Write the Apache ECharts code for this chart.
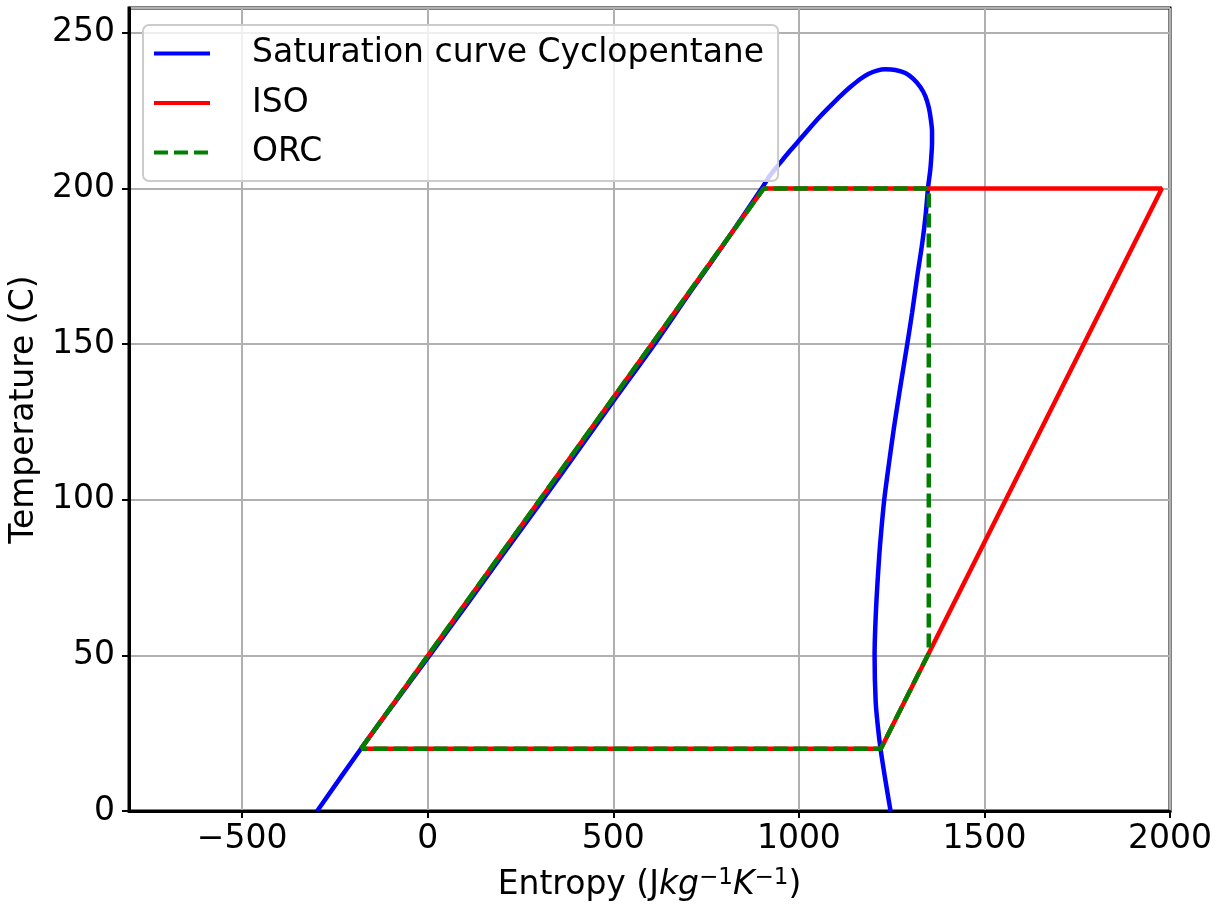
<!DOCTYPE html>
<html>
<head>
<meta charset="utf-8">
<title>T-s diagram Cyclopentane ORC</title>
<script src="https://cdn.jsdelivr.net/npm/echarts@6/dist/echarts.min.js"></script>
<style>
  html, body { margin: 0; padding: 0; background: #ffffff; }
  #chart { width: 1231px; height: 911px; }
</style>
</head>
<body>
<div id="chart"></div>
<script>
// Saturation dome of cyclopentane (entropy in J/kg/K, temperature in C)
const satS = [-298, -180, -88, 5, 103, 203, 310, 409, 508, 611, 706, 803,
  900.5, 922.9, 949.9, 976.8, 1003.8, 1030.7, 1057.7, 1084.6, 1111.6, 1138.5, 1165.5, 1187.1, 1210.5,
  1232.9, 1259.8, 1286.8, 1308.4, 1327.2, 1340.7, 1350.1, 1355.5, 1358.8, 1358.8, 1356.9, 1354.2, 1348.0,
  1342, 1333, 1318, 1305, 1292, 1273, 1256, 1242, 1230, 1222, 1216, 1208, 1204, 1207, 1213, 1220, 1233, 1247];
const satT = [0, 20, 35, 50, 66, 82.5, 100, 116.5, 133, 150, 166.5, 183,
  200.2, 204.3, 208.3, 212.2, 215.9, 219.6, 223.2, 226.5, 229.7, 232.6, 235.2, 236.8, 237.9,
  238.3, 238.1, 237.1, 235.2, 232.6, 229.7, 226.0, 222.2, 218.3, 214.7, 210.3, 206.1, 200.2,
  192, 183, 171, 160, 150, 136, 123, 111, 100, 90, 81, 65, 50, 35, 27, 20, 10, 0];

// Cycle with isothermal expansion (ISO)
const isoS = [-180, 905, 1978, 1221, -180];
const isoT = [20, 200, 200, 20, 20];

// Organic Rankine cycle (ORC)
const orcS = [-180, 905, 1350, 1350, 1221, -180];
const orcT = [20, 200, 200, 50.7, 20, 20];

// Axis ticks
const xTicks = [-500, 0, 500, 1000, 1500, 2000];
const yTicks = [0, 50, 100, 150, 200, 250];
const seriesNames = ['Saturation curve Cyclopentane', 'ISO', 'ORC'];

const pairs = (xs, ys) => xs.map((x, i) => [x, ys[i]]);
const FONT = 'DejaVu Sans';
const FS = 33;
const fmt = v => (v < 0 ? '\u2212' + Math.abs(v) : String(v));

const chart = echarts.init(document.getElementById('chart'), null, { renderer: 'canvas' });

chart.setOption({
  animation: false,
  backgroundColor: '#ffffff',
  textStyle: { fontFamily: FONT },
  grid: {
    left: 129, right: 61, top: 8, bottom: 100,
    show: true, borderColor: '#000000', borderWidth: 3, backgroundColor: 'transparent',
    containLabel: false
  },
  legend: {
    orient: 'vertical',
    left: 143, top: 25,
    padding: [12, 14, 12, 9],
    itemGap: 16.5,
    itemWidth: 56, itemHeight: 14,
    backgroundColor: 'rgba(255,255,255,0.8)',
    borderColor: '#cccccc', borderWidth: 2, borderRadius: 6,
    data: seriesNames,
    itemStyle: { opacity: 0 },
    lineStyle: { width: 4 },
    textStyle: {
      fontFamily: FONT, fontSize: FS, color: '#000000',
      lineHeight: 33, padding: [0, 0, 0, 37]
    }
  },
  xAxis: {
    type: 'value',
    min: -805, max: 2000,
    name: 'Entropy (J{it|kg}{sup|\u22121}{it|K}{sup|\u22121})',
    nameLocation: 'middle', nameGap: 56,
    nameTextStyle: {
      fontFamily: FONT, fontSize: FS, color: '#000000',
      rich: {
        it: { fontFamily: FONT, fontSize: FS, fontStyle: 'italic', color: '#000000' },
        sup: { fontFamily: FONT, fontSize: 23, color: '#000000', verticalAlign: 'top', padding: [0, 0, 14, 0] }
      }
    },
    axisLine: { show: true, onZero: false, lineStyle: { color: '#000000', width: 3 } },
    axisTick: { show: true, inside: false, length: 7, customValues: xTicks, lineStyle: { color: '#000000', width: 2 } },
    axisLabel: {
      fontFamily: FONT, fontSize: FS, color: '#000000', margin: 12,
      customValues: xTicks,
      formatter: v => fmt(v)
    },
    splitLine: { show: true, lineStyle: { color: '#b0b0b0', width: 2 } }
  },
  yAxis: {
    type: 'value',
    min: 0, max: 258, interval: 50,
    name: 'Temperature (C)',
    nameLocation: 'middle', nameGap: 74, nameRotate: 90,
    nameTextStyle: { fontFamily: FONT, fontSize: FS, color: '#000000' },
    axisLine: { show: true, onZero: false, lineStyle: { color: '#000000', width: 3 } },
    axisTick: { show: true, inside: false, length: 7, lineStyle: { color: '#000000', width: 2 } },
    axisLabel: {
      fontFamily: FONT, fontSize: FS, color: '#000000', margin: 14,
      showMaxLabel: false,
      formatter: v => (yTicks.includes(v) ? fmt(v) : '')
    },
    splitLine: { show: true, lineStyle: { color: '#b0b0b0', width: 2 } }
  },
  series: [
    {
      name: seriesNames[0], type: 'line', z: 2,
      data: pairs(satS, satT),
      showSymbol: false, symbol: 'none', smooth: 0.3,
      lineStyle: { color: '#0000ff', width: 4.5 },
      itemStyle: { color: '#0000ff' }
    },
    {
      name: seriesNames[1], type: 'line', z: 3,
      data: pairs(isoS, isoT),
      showSymbol: false, symbol: 'none',
      lineStyle: { color: '#ff0000', width: 4.5 },
      itemStyle: { color: '#ff0000' }
    },
    {
      name: seriesNames[2], type: 'line', z: 4,
      data: pairs(orcS, orcT),
      showSymbol: false, symbol: 'none',
      lineStyle: { color: '#008000', width: 4.5, type: [14, 6] },
      itemStyle: { color: '#008000' }
    }
  ]
});
</script>
</body>
</html>
